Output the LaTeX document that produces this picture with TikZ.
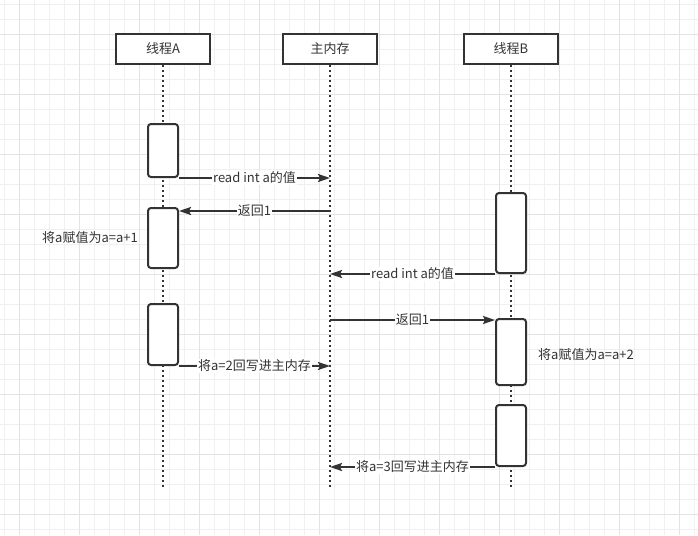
\documentclass[tikz,border=0pt]{standalone}
\usepackage{fontspec}
\setmainfont{Noto Sans CJK SC}
\definecolor{ink}{HTML}{333333}
\definecolor{gridminor}{HTML}{F0F0F0}
\definecolor{gridmajor}{HTML}{E3E3E3}
\usetikzlibrary{arrows.meta,positioning}
\tikzset{
  head/.style={draw=ink,line width=2pt,fill=white,minimum width=94pt,
               minimum height=30pt,inner sep=0pt,text=ink,
               font=\fontsize{13}{15}\selectfont},
  act/.style={draw=ink,line width=2pt,fill=white,rounded corners=3pt,
              minimum width=30pt,inner sep=0pt,anchor=north},
  life/.style={ink,line width=2pt,dash pattern=on 2pt off 3pt},
  msg/.style={-{Stealth[length=12pt,width=8pt,inset=2pt]},ink,line width=2pt},
  lbl/.style={font=\fontsize{13}{15}\selectfont,text=ink,midway,fill=white,inner sep=1pt},
  note/.style={font=\fontsize{13}{15}\selectfont,text=ink,inner sep=0pt}
}
\begin{document}
\begin{tikzpicture}[x=1pt,y=-1pt]
  % background grid
  \fill[white] (0,0) rectangle (698,535);
  \useasboundingbox (0,0) rectangle (698,535);
  \foreach \g in {4.3,19.3,...,698} \draw[gridminor,line width=1pt] (\g,0) -- (\g,535);
  \foreach \g in {4.3,19.3,...,535} \draw[gridminor,line width=1pt] (0,\g) -- (698,\g);
  \foreach \g in {19.3,79.3,...,698} \draw[gridmajor,line width=1pt] (\g,0) -- (\g,535);
  \foreach \g in {34.3,94.3,...,535} \draw[gridmajor,line width=1pt] (0,\g) -- (698,\g);

  % participants
  \node[head] (thA) at (163,49) {线程A};
  \node[head] (mem) at (330,49) {主内存};
  \node[head] (thB) at (511,49) {线程B};
  \coordinate (bottom) at (0,489);
  \foreach \n in {thA,mem,thB}
    \draw[life] (\n.south) -- (\n.south |- bottom);

  % activations
  \node[act,minimum height=53pt] (a1) at (163,123) {};
  \node[act,minimum height=60pt] (a2) at (163,207) {};
  \node[act,minimum height=61pt] (a3) at (163,303) {};
  \node[act,minimum height=80pt] (b1) at (511,192) {};
  \node[act,minimum height=66pt] (b2) at (511,318) {};
  \node[act,minimum height=61pt] (b3) at (511,404) {};

  \node[note,left=9pt of a2] (incA) {将a赋值为a=a+1};
  \node[note,right=11pt of b2,yshift=-3pt] (incB) {将a赋值为a=a+2};

  % messages
  \draw[msg] (a1.south east) -- node[lbl]{read int a的值} (a1.south east -| mem);
  \draw[msg] ([yshift=-4pt]a2.north east -| mem) -- node[lbl]{返回1} ([yshift=-4pt]a2.north east);
  \draw[msg] (b1.south west) -- node[lbl]{read int a的值} (b1.south west -| mem);
  \draw[msg] ([yshift=-2pt]b2.north west -| mem) -- node[lbl]{返回1} ([yshift=-2pt]b2.north west);
  \draw[msg] (a3.south east) -- node[lbl]{将a=2回写进主内存} (a3.south east -| mem);
  \draw[msg] (b3.south west) -- node[lbl]{将a=3回写进主内存} (b3.south west -| mem);
\end{tikzpicture}
\end{document}
